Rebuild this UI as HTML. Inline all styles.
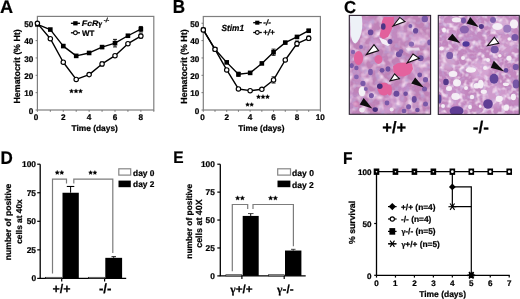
<!DOCTYPE html>
<html><head><meta charset="utf-8"><style>
html,body{margin:0;padding:0;background:#fff;width:520px;height:299px;overflow:hidden;}
svg{display:block;font-family:"Liberation Sans",sans-serif;text-rendering:geometricPrecision;filter:blur(0.35px);}
</style></head><body>
<svg width="520" height="299" viewBox="0 0 520 299" font-family="Liberation Sans">
<style>text{stroke:#000;stroke-width:0.22px;stroke-linejoin:round;}</style>
<rect width="520" height="299" fill="#fff"/>
<text transform="translate(0.00,12.83) scale(0.997,1)" font-size="18.235" font-weight="bold" font-style="normal">A</text>
<rect x="37.40" y="16.40" width="116.40" height="93.60" fill="none" stroke="#7f7f7f" stroke-width="1.2"/>
<line x1="35.60" y1="110.00" x2="37.40" y2="110.00" stroke="#777" stroke-width="1"/>
<text transform="translate(28.72,113.63) scale(1.000,1)" font-size="8.200" font-weight="bold" font-style="normal">0</text>
<line x1="35.60" y1="92.65" x2="37.40" y2="92.65" stroke="#777" stroke-width="1"/>
<text transform="translate(24.13,96.28) scale(1.000,1)" font-size="8.200" font-weight="bold" font-style="normal">10</text>
<line x1="35.60" y1="75.30" x2="37.40" y2="75.30" stroke="#777" stroke-width="1"/>
<text transform="translate(24.13,78.93) scale(1.000,1)" font-size="8.200" font-weight="bold" font-style="normal">20</text>
<line x1="35.60" y1="57.95" x2="37.40" y2="57.95" stroke="#777" stroke-width="1"/>
<text transform="translate(24.13,61.58) scale(1.000,1)" font-size="8.200" font-weight="bold" font-style="normal">30</text>
<line x1="35.60" y1="40.60" x2="37.40" y2="40.60" stroke="#777" stroke-width="1"/>
<text transform="translate(24.13,44.23) scale(1.000,1)" font-size="8.200" font-weight="bold" font-style="normal">40</text>
<line x1="35.60" y1="23.25" x2="37.40" y2="23.25" stroke="#777" stroke-width="1"/>
<text transform="translate(24.13,26.88) scale(1.000,1)" font-size="8.200" font-weight="bold" font-style="normal">50</text>
<line x1="37.40" y1="110.00" x2="37.40" y2="111.80" stroke="#777" stroke-width="1"/>
<text transform="translate(33.64,120.24) scale(1.000,1)" font-size="8.200" font-weight="bold" font-style="normal">0</text>
<line x1="50.33" y1="110.00" x2="50.33" y2="111.80" stroke="#777" stroke-width="1"/>
<line x1="63.27" y1="110.00" x2="63.27" y2="111.80" stroke="#777" stroke-width="1"/>
<text transform="translate(61.01,120.24) scale(1.000,1)" font-size="8.200" font-weight="bold" font-style="normal">2</text>
<line x1="76.20" y1="110.00" x2="76.20" y2="111.80" stroke="#777" stroke-width="1"/>
<line x1="89.13" y1="110.00" x2="89.13" y2="111.80" stroke="#777" stroke-width="1"/>
<text transform="translate(86.80,120.16) scale(1.000,1)" font-size="8.200" font-weight="bold" font-style="normal">4</text>
<line x1="102.07" y1="110.00" x2="102.07" y2="111.80" stroke="#777" stroke-width="1"/>
<line x1="115.00" y1="110.00" x2="115.00" y2="111.80" stroke="#777" stroke-width="1"/>
<text transform="translate(112.70,120.24) scale(1.000,1)" font-size="8.200" font-weight="bold" font-style="normal">6</text>
<line x1="127.93" y1="110.00" x2="127.93" y2="111.80" stroke="#777" stroke-width="1"/>
<line x1="140.87" y1="110.00" x2="140.87" y2="111.80" stroke="#777" stroke-width="1"/>
<text transform="translate(138.57,120.24) scale(1.000,1)" font-size="8.200" font-weight="bold" font-style="normal">8</text>
<line x1="153.80" y1="110.00" x2="153.80" y2="111.80" stroke="#777" stroke-width="1"/>
<text transform="translate(71.47,130.59) scale(1.000,1)" font-size="8.394" font-weight="bold" font-style="normal" fill="#000">Time (days)</text>
<text transform="translate(20.32,103.57) rotate(-90) scale(1.000,1)" font-size="8.863" font-weight="bold" font-style="normal">Hematocrit (% Ht)</text>
<polyline points="37.40,24.40 50.33,29.56 63.27,46.07 76.20,55.88 89.13,52.95 102.07,47.10 115.00,43.15 127.93,35.75 140.87,29.22" fill="none" stroke="#000" stroke-width="1.4" stroke-linejoin="round"/>
<polyline points="37.40,23.37 50.33,38.68 63.27,62.24 76.20,79.44 89.13,74.62 102.07,63.96 115.00,55.70 127.93,43.66 140.87,36.10" fill="none" stroke="#000" stroke-width="1.4" stroke-linejoin="round"/>
<line x1="115.00" y1="39.36" x2="115.00" y2="46.93" stroke="#000" stroke-width="0.9"/>
<line x1="113.00" y1="39.36" x2="117.00" y2="39.36" stroke="#000" stroke-width="0.9"/>
<line x1="113.00" y1="46.93" x2="117.00" y2="46.93" stroke="#000" stroke-width="0.9"/>
<line x1="140.87" y1="26.46" x2="140.87" y2="31.97" stroke="#000" stroke-width="0.9"/>
<line x1="138.87" y1="26.46" x2="142.87" y2="26.46" stroke="#000" stroke-width="0.9"/>
<line x1="138.87" y1="31.97" x2="142.87" y2="31.97" stroke="#000" stroke-width="0.9"/>
<line x1="102.07" y1="45.73" x2="102.07" y2="48.48" stroke="#000" stroke-width="0.9"/>
<line x1="100.07" y1="45.73" x2="104.07" y2="45.73" stroke="#000" stroke-width="0.9"/>
<line x1="100.07" y1="48.48" x2="104.07" y2="48.48" stroke="#000" stroke-width="0.9"/>
<line x1="63.27" y1="44.70" x2="63.27" y2="47.45" stroke="#000" stroke-width="0.9"/>
<line x1="61.27" y1="44.70" x2="65.27" y2="44.70" stroke="#000" stroke-width="0.9"/>
<line x1="61.27" y1="47.45" x2="65.27" y2="47.45" stroke="#000" stroke-width="0.9"/>
<line x1="140.87" y1="34.03" x2="140.87" y2="38.16" stroke="#000" stroke-width="0.9"/>
<line x1="138.87" y1="34.03" x2="142.87" y2="34.03" stroke="#000" stroke-width="0.9"/>
<line x1="138.87" y1="38.16" x2="142.87" y2="38.16" stroke="#000" stroke-width="0.9"/>
<line x1="102.07" y1="61.90" x2="102.07" y2="66.02" stroke="#000" stroke-width="0.9"/>
<line x1="100.07" y1="61.90" x2="104.07" y2="61.90" stroke="#000" stroke-width="0.9"/>
<line x1="100.07" y1="66.02" x2="104.07" y2="66.02" stroke="#000" stroke-width="0.9"/>
<rect x="35.10" y="22.10" width="4.60" height="4.60" fill="#000" stroke="none" stroke-width="1.0"/>
<rect x="48.03" y="27.26" width="4.60" height="4.60" fill="#000" stroke="none" stroke-width="1.0"/>
<rect x="60.97" y="43.77" width="4.60" height="4.60" fill="#000" stroke="none" stroke-width="1.0"/>
<rect x="73.90" y="53.58" width="4.60" height="4.60" fill="#000" stroke="none" stroke-width="1.0"/>
<rect x="86.83" y="50.65" width="4.60" height="4.60" fill="#000" stroke="none" stroke-width="1.0"/>
<rect x="99.77" y="44.80" width="4.60" height="4.60" fill="#000" stroke="none" stroke-width="1.0"/>
<rect x="112.70" y="40.85" width="4.60" height="4.60" fill="#000" stroke="none" stroke-width="1.0"/>
<rect x="125.63" y="33.45" width="4.60" height="4.60" fill="#000" stroke="none" stroke-width="1.0"/>
<rect x="138.57" y="26.92" width="4.60" height="4.60" fill="#000" stroke="none" stroke-width="1.0"/>
<circle cx="37.40" cy="23.37" r="2.2" fill="#fff" stroke="#000" stroke-width="1.15"/>
<circle cx="50.33" cy="38.68" r="2.2" fill="#fff" stroke="#000" stroke-width="1.15"/>
<circle cx="63.27" cy="62.24" r="2.2" fill="#fff" stroke="#000" stroke-width="1.15"/>
<circle cx="76.20" cy="79.44" r="2.2" fill="#fff" stroke="#000" stroke-width="1.15"/>
<circle cx="89.13" cy="74.62" r="2.2" fill="#fff" stroke="#000" stroke-width="1.15"/>
<circle cx="102.07" cy="63.96" r="2.2" fill="#fff" stroke="#000" stroke-width="1.15"/>
<circle cx="115.00" cy="55.70" r="2.2" fill="#fff" stroke="#000" stroke-width="1.15"/>
<circle cx="127.93" cy="43.66" r="2.2" fill="#fff" stroke="#000" stroke-width="1.15"/>
<circle cx="140.87" cy="36.10" r="2.2" fill="#fff" stroke="#000" stroke-width="1.15"/>
<polygon points="71.50,88.88 72.16,90.22 73.64,90.43 72.57,91.48 72.82,92.95 71.50,92.25 70.18,92.95 70.43,91.48 69.36,90.43 70.84,90.22" fill="#000" stroke="#000" stroke-width="0.3" stroke-linejoin="round"/>
<polygon points="76.00,88.88 76.66,90.22 78.14,90.43 77.07,91.48 77.32,92.95 76.00,92.25 74.68,92.95 74.93,91.48 73.86,90.43 75.34,90.22" fill="#000" stroke="#000" stroke-width="0.3" stroke-linejoin="round"/>
<polygon points="80.50,88.88 81.16,90.22 82.64,90.43 81.57,91.48 81.82,92.95 80.50,92.25 79.18,92.95 79.43,91.48 78.36,90.43 79.84,90.22" fill="#000" stroke="#000" stroke-width="0.3" stroke-linejoin="round"/>
<line x1="70.90" y1="23.30" x2="80.00" y2="23.30" stroke="#000" stroke-width="1.3"/>
<rect x="73.20" y="21.20" width="4.40" height="4.20" fill="#000" stroke="none" stroke-width="1.0"/>
<line x1="70.90" y1="32.80" x2="80.00" y2="32.80" stroke="#000" stroke-width="1.3"/>
<circle cx="75.40" cy="32.80" r="1.9" fill="#fff" stroke="#000" stroke-width="1.1"/>
<text transform="translate(81.87,26.29) scale(1.113,1)" font-size="7.889" font-weight="bold" font-style="italic">FcR<tspan font-family="Liberation Serif">γ</tspan></text>
<text transform="translate(103.67,22.29) scale(1.000,1)" font-size="5.909" font-weight="bold" font-style="italic" fill="#000">-/-</text>
<text transform="translate(82.05,35.55) scale(0.996,1)" font-size="7.971" font-weight="bold" font-style="normal">WT</text>
<text transform="translate(172.76,13.05) scale(0.898,1)" font-size="18.986" font-weight="bold" font-style="normal">B</text>
<rect x="203.30" y="16.50" width="117.10" height="93.50" fill="none" stroke="#7f7f7f" stroke-width="1.2"/>
<line x1="201.50" y1="110.00" x2="203.30" y2="110.00" stroke="#777" stroke-width="1"/>
<text transform="translate(194.82,113.63) scale(1.000,1)" font-size="8.200" font-weight="bold" font-style="normal">0</text>
<line x1="201.50" y1="92.65" x2="203.30" y2="92.65" stroke="#777" stroke-width="1"/>
<text transform="translate(190.23,96.28) scale(1.000,1)" font-size="8.200" font-weight="bold" font-style="normal">10</text>
<line x1="201.50" y1="75.30" x2="203.30" y2="75.30" stroke="#777" stroke-width="1"/>
<text transform="translate(190.23,78.93) scale(1.000,1)" font-size="8.200" font-weight="bold" font-style="normal">20</text>
<line x1="201.50" y1="57.95" x2="203.30" y2="57.95" stroke="#777" stroke-width="1"/>
<text transform="translate(190.23,61.58) scale(1.000,1)" font-size="8.200" font-weight="bold" font-style="normal">30</text>
<line x1="201.50" y1="40.60" x2="203.30" y2="40.60" stroke="#777" stroke-width="1"/>
<text transform="translate(190.23,44.23) scale(1.000,1)" font-size="8.200" font-weight="bold" font-style="normal">40</text>
<line x1="201.50" y1="23.25" x2="203.30" y2="23.25" stroke="#777" stroke-width="1"/>
<text transform="translate(190.23,26.88) scale(1.000,1)" font-size="8.200" font-weight="bold" font-style="normal">50</text>
<line x1="203.30" y1="110.00" x2="203.30" y2="111.80" stroke="#777" stroke-width="1"/>
<text transform="translate(200.34,120.14) scale(1.000,1)" font-size="8.200" font-weight="bold" font-style="normal">0</text>
<line x1="215.01" y1="110.00" x2="215.01" y2="111.80" stroke="#777" stroke-width="1"/>
<line x1="226.72" y1="110.00" x2="226.72" y2="111.80" stroke="#777" stroke-width="1"/>
<text transform="translate(224.47,120.14) scale(1.000,1)" font-size="8.200" font-weight="bold" font-style="normal">2</text>
<line x1="238.43" y1="110.00" x2="238.43" y2="111.80" stroke="#777" stroke-width="1"/>
<line x1="250.14" y1="110.00" x2="250.14" y2="111.80" stroke="#777" stroke-width="1"/>
<text transform="translate(247.80,120.06) scale(1.000,1)" font-size="8.200" font-weight="bold" font-style="normal">4</text>
<line x1="261.85" y1="110.00" x2="261.85" y2="111.80" stroke="#777" stroke-width="1"/>
<line x1="273.56" y1="110.00" x2="273.56" y2="111.80" stroke="#777" stroke-width="1"/>
<text transform="translate(271.26,120.14) scale(1.000,1)" font-size="8.200" font-weight="bold" font-style="normal">6</text>
<line x1="285.27" y1="110.00" x2="285.27" y2="111.80" stroke="#777" stroke-width="1"/>
<line x1="296.98" y1="110.00" x2="296.98" y2="111.80" stroke="#777" stroke-width="1"/>
<text transform="translate(294.68,120.14) scale(1.000,1)" font-size="8.200" font-weight="bold" font-style="normal">8</text>
<line x1="308.69" y1="110.00" x2="308.69" y2="111.80" stroke="#777" stroke-width="1"/>
<line x1="320.40" y1="110.00" x2="320.40" y2="111.80" stroke="#777" stroke-width="1"/>
<text transform="translate(315.77,120.14) scale(1.000,1)" font-size="8.200" font-weight="bold" font-style="normal">10</text>
<text transform="translate(238.37,130.60) scale(1.000,1)" font-size="8.321" font-weight="bold" font-style="normal" fill="#000">Time (days)</text>
<text transform="translate(186.93,103.67) rotate(-90) scale(1.000,1)" font-size="8.875" font-weight="bold" font-style="normal">Hematocrit (% Ht)</text>
<polyline points="203.30,29.88 215.01,49.31 226.72,62.38 238.43,74.25 250.14,72.88 261.85,63.42 273.56,52.24 285.27,42.60 296.98,36.93 308.69,30.74" fill="none" stroke="#000" stroke-width="1.4" stroke-linejoin="round"/>
<polyline points="203.30,29.88 215.01,49.31 226.72,69.95 238.43,88.96 250.14,90.68 261.85,89.30 273.56,79.93 285.27,59.98 296.98,43.64 308.69,38.30" fill="none" stroke="#000" stroke-width="1.4" stroke-linejoin="round"/>
<line x1="273.56" y1="49.14" x2="273.56" y2="55.33" stroke="#000" stroke-width="0.9"/>
<line x1="271.56" y1="49.14" x2="275.56" y2="49.14" stroke="#000" stroke-width="0.9"/>
<line x1="271.56" y1="55.33" x2="275.56" y2="55.33" stroke="#000" stroke-width="0.9"/>
<line x1="238.43" y1="72.19" x2="238.43" y2="76.32" stroke="#000" stroke-width="0.9"/>
<line x1="236.43" y1="72.19" x2="240.43" y2="72.19" stroke="#000" stroke-width="0.9"/>
<line x1="236.43" y1="76.32" x2="240.43" y2="76.32" stroke="#000" stroke-width="0.9"/>
<line x1="296.98" y1="41.06" x2="296.98" y2="46.22" stroke="#000" stroke-width="0.9"/>
<line x1="294.98" y1="41.06" x2="298.98" y2="41.06" stroke="#000" stroke-width="0.9"/>
<line x1="294.98" y1="46.22" x2="298.98" y2="46.22" stroke="#000" stroke-width="0.9"/>
<line x1="308.69" y1="36.07" x2="308.69" y2="40.54" stroke="#000" stroke-width="0.9"/>
<line x1="306.69" y1="36.07" x2="310.69" y2="36.07" stroke="#000" stroke-width="0.9"/>
<line x1="306.69" y1="40.54" x2="310.69" y2="40.54" stroke="#000" stroke-width="0.9"/>
<line x1="273.56" y1="76.83" x2="273.56" y2="83.02" stroke="#000" stroke-width="0.9"/>
<line x1="271.56" y1="76.83" x2="275.56" y2="76.83" stroke="#000" stroke-width="0.9"/>
<line x1="271.56" y1="83.02" x2="275.56" y2="83.02" stroke="#000" stroke-width="0.9"/>
<line x1="308.69" y1="29.36" x2="308.69" y2="32.11" stroke="#000" stroke-width="0.9"/>
<line x1="306.69" y1="29.36" x2="310.69" y2="29.36" stroke="#000" stroke-width="0.9"/>
<line x1="306.69" y1="32.11" x2="310.69" y2="32.11" stroke="#000" stroke-width="0.9"/>
<rect x="201.00" y="27.58" width="4.60" height="4.60" fill="#000" stroke="none" stroke-width="1.0"/>
<rect x="212.71" y="47.01" width="4.60" height="4.60" fill="#000" stroke="none" stroke-width="1.0"/>
<rect x="224.42" y="60.08" width="4.60" height="4.60" fill="#000" stroke="none" stroke-width="1.0"/>
<rect x="236.13" y="71.95" width="4.60" height="4.60" fill="#000" stroke="none" stroke-width="1.0"/>
<rect x="247.84" y="70.58" width="4.60" height="4.60" fill="#000" stroke="none" stroke-width="1.0"/>
<rect x="259.55" y="61.12" width="4.60" height="4.60" fill="#000" stroke="none" stroke-width="1.0"/>
<rect x="271.26" y="49.94" width="4.60" height="4.60" fill="#000" stroke="none" stroke-width="1.0"/>
<rect x="282.97" y="40.30" width="4.60" height="4.60" fill="#000" stroke="none" stroke-width="1.0"/>
<rect x="294.68" y="34.63" width="4.60" height="4.60" fill="#000" stroke="none" stroke-width="1.0"/>
<rect x="306.39" y="28.44" width="4.60" height="4.60" fill="#000" stroke="none" stroke-width="1.0"/>
<circle cx="203.30" cy="29.88" r="2.2" fill="#fff" stroke="#000" stroke-width="1.15"/>
<circle cx="215.01" cy="49.31" r="2.2" fill="#fff" stroke="#000" stroke-width="1.15"/>
<circle cx="226.72" cy="69.95" r="2.2" fill="#fff" stroke="#000" stroke-width="1.15"/>
<circle cx="238.43" cy="88.96" r="2.2" fill="#fff" stroke="#000" stroke-width="1.15"/>
<circle cx="250.14" cy="90.68" r="2.2" fill="#fff" stroke="#000" stroke-width="1.15"/>
<circle cx="261.85" cy="89.30" r="2.2" fill="#fff" stroke="#000" stroke-width="1.15"/>
<circle cx="273.56" cy="79.93" r="2.2" fill="#fff" stroke="#000" stroke-width="1.15"/>
<circle cx="285.27" cy="59.98" r="2.2" fill="#fff" stroke="#000" stroke-width="1.15"/>
<circle cx="296.98" cy="43.64" r="2.2" fill="#fff" stroke="#000" stroke-width="1.15"/>
<circle cx="308.69" cy="38.30" r="2.2" fill="#fff" stroke="#000" stroke-width="1.15"/>
<polygon points="247.52,102.59 248.13,103.83 249.50,104.03 248.51,104.99 248.74,106.35 247.52,105.71 246.31,106.35 246.54,104.99 245.55,104.03 246.92,103.83" fill="#000" stroke="#000" stroke-width="0.3" stroke-linejoin="round"/>
<polygon points="251.68,102.59 252.28,103.83 253.65,104.03 252.66,104.99 252.89,106.35 251.68,105.71 250.46,106.35 250.69,104.99 249.70,104.03 251.07,103.83" fill="#000" stroke="#000" stroke-width="0.3" stroke-linejoin="round"/>
<polygon points="258.50,94.58 259.16,95.92 260.64,96.13 259.57,97.18 259.82,98.65 258.50,97.95 257.18,98.65 257.43,97.18 256.36,96.13 257.84,95.92" fill="#000" stroke="#000" stroke-width="0.3" stroke-linejoin="round"/>
<polygon points="263.00,94.58 263.66,95.92 265.14,96.13 264.07,97.18 264.32,98.65 263.00,97.95 261.68,98.65 261.93,97.18 260.86,96.13 262.34,95.92" fill="#000" stroke="#000" stroke-width="0.3" stroke-linejoin="round"/>
<polygon points="267.50,94.58 268.16,95.92 269.64,96.13 268.57,97.18 268.82,98.65 267.50,97.95 266.18,98.65 266.43,97.18 265.36,96.13 266.84,95.92" fill="#000" stroke="#000" stroke-width="0.3" stroke-linejoin="round"/>
<text transform="translate(221.57,30.66) scale(0.927,1)" font-size="8.919" font-weight="bold" font-style="italic">Stim1</text>
<line x1="253.20" y1="22.70" x2="261.80" y2="22.70" stroke="#000" stroke-width="1.3"/>
<rect x="255.20" y="20.70" width="4.20" height="4.00" fill="#000" stroke="none" stroke-width="1.0"/>
<line x1="253.20" y1="32.50" x2="261.80" y2="32.50" stroke="#000" stroke-width="1.3"/>
<circle cx="257.30" cy="32.50" r="1.9" fill="#fff" stroke="#000" stroke-width="1.1"/>
<text transform="translate(263.31,25.27) scale(1.000,1)" font-size="7.955" font-weight="bold" font-style="italic" fill="#000">-/-</text>
<text transform="translate(263.06,35.37) scale(1.000,1)" font-size="8.088" font-weight="bold" font-style="italic" fill="#000">+/+</text>
<text transform="translate(343.98,12.88) scale(0.968,1)" font-size="17.324" font-weight="bold" font-style="normal">C</text>
<text transform="translate(382.29,133.09) scale(1.000,1)" font-size="16.496" font-weight="bold" font-style="normal" fill="#000">+/+</text>
<text transform="translate(472.87,133.08) scale(1.000,1)" font-size="17.093" font-weight="bold" font-style="normal" fill="#000">-/-</text>
<defs>
<clipPath id="c1"><rect x="349.3" y="15.4" width="81.30" height="98.90"/></clipPath>
<clipPath id="c2"><rect x="438.3" y="15.4" width="81.00" height="99.00"/></clipPath>
<filter id="bl" x="-10%" y="-10%" width="120%" height="120%"><feGaussianBlur stdDeviation="0.75"/></filter>
<filter id="bl2" x="-10%" y="-10%" width="120%" height="120%"><feGaussianBlur stdDeviation="1.5"/></filter>
<filter id="bl3" x="-10%" y="-10%" width="120%" height="120%"><feGaussianBlur stdDeviation="0.35"/></filter>
<filter id="t1a" x="0" y="0" width="100%" height="100%" filterUnits="objectBoundingBox"><feTurbulence type="fractalNoise" baseFrequency="0.13" numOctaves="2" seed="4" result="n"/><feColorMatrix in="n" type="matrix" values="0 0 0 0 0.9 0 0 0 0 0.72 0 0 0 0 0.87 2.6 0 0 0 -1.15" result="c"/><feGaussianBlur in="c" stdDeviation="0.4"/></filter>
<filter id="t1b" x="0" y="0" width="100%" height="100%" filterUnits="objectBoundingBox"><feTurbulence type="fractalNoise" baseFrequency="0.2" numOctaves="2" seed="9" result="n"/><feColorMatrix in="n" type="matrix" values="0 0 0 0 0.5 0 0 0 0 0.36 0 0 0 0 0.66 3.0 0 0 0 -1.45" result="c"/><feGaussianBlur in="c" stdDeviation="0.4"/></filter>
<filter id="t2a" x="0" y="0" width="100%" height="100%" filterUnits="objectBoundingBox"><feTurbulence type="fractalNoise" baseFrequency="0.17" numOctaves="2" seed="7" result="n"/><feColorMatrix in="n" type="matrix" values="0 0 0 0 0.94 0 0 0 0 0.82 0 0 0 0 0.93 3.0 0 0 0 -1.4" result="c"/><feGaussianBlur in="c" stdDeviation="0.4"/></filter>
<filter id="t2b" x="0" y="0" width="100%" height="100%" filterUnits="objectBoundingBox"><feTurbulence type="fractalNoise" baseFrequency="0.22" numOctaves="2" seed="12" result="n"/><feColorMatrix in="n" type="matrix" values="0 0 0 0 0.55 0 0 0 0 0.4 0 0 0 0 0.7 3.0 0 0 0 -1.5" result="c"/><feGaussianBlur in="c" stdDeviation="0.4"/></filter>
</defs>
<g clip-path="url(#c1)">
<rect x="349.3" y="15.4" width="81.30" height="98.90" fill="#bf82b7" />
<g filter="url(#bl2)">
<ellipse cx="365" cy="25" rx="8" ry="8" fill="#c88ec4"/>
<ellipse cx="400" cy="35" rx="10" ry="9" fill="#c289bf"/>
<ellipse cx="420" cy="70" rx="9" ry="12" fill="#c992c6"/>
<ellipse cx="360" cy="75" rx="8" ry="10" fill="#c58cc1"/>
<ellipse cx="395" cy="100" rx="10" ry="8" fill="#c890c6"/>
<ellipse cx="375" cy="45" rx="6" ry="6" fill="#d09ccf"/>
<ellipse cx="418" cy="40" rx="8" ry="6" fill="#d2a0d0"/>
<ellipse cx="385" cy="110" rx="8" ry="4" fill="#cc96cb"/>
<ellipse cx="352" cy="100" rx="5" ry="10" fill="#bd86c0"/>
<ellipse cx="405" cy="88" rx="6" ry="5" fill="#c28ac6"/>
</g>
<rect x="349.3" y="15.4" width="81.30" height="98.90" fill="#fff" filter="url(#t1a)"/>
<rect x="349.3" y="15.4" width="81.30" height="98.90" fill="#fff" filter="url(#t1b)" opacity="0.75"/>
<g filter="url(#bl)">
<path d="M350,15 L361.5,15 Q363.2,24 361.5,32 Q359.5,41 355.5,43.5 Q352.5,43 351.2,37 Q350.2,30 350,15Z" fill="#edf1f7"/>
<path d="M379,37.5 L386,40 L390,44.5 L388,46 L382,43.5Z" fill="#f3eef6"/>
<path d="M406,48 L419,47.5 L420,50.5 L407,50.5Z" fill="#efe6f1" opacity="0.8"/>
<ellipse cx="362" cy="91.5" rx="3.4" ry="4.8" fill="#f4f2f7"/>
<ellipse cx="362" cy="110" rx="2.8" ry="2.4" fill="#f0eaf3"/>
<ellipse cx="391.7" cy="109.6" rx="2" ry="2" fill="#efe6f1"/>
<ellipse cx="358.5" cy="58" rx="4.6" ry="7" fill="#e2609c"/>
<ellipse cx="378.5" cy="59.5" rx="4" ry="4.4" fill="#e2609c" opacity="0.9"/>
<ellipse cx="384" cy="89" rx="6.5" ry="6.5" fill="#e2609c"/>
<ellipse cx="389.5" cy="90" rx="2.5" ry="5.5" fill="#e2609c"/>
<ellipse cx="356" cy="104" rx="3" ry="3" fill="#e2609c" opacity="0.25"/>
<path d="M384,17 L394,17 L394,24 L391,31 L388,37 L383,39 L379.5,36 L381,29 L382,21Z" fill="#e2609c"/>
<path d="M393,66 L398,63 L406,62.5 L412,64 L413,69 L410,74 L404,76.5 L397,76 L393.5,72Z" fill="#e4629e"/>
<ellipse cx="370.6" cy="32.4" rx="2.8" ry="2.8" fill="#6a4a9c"/>
<ellipse cx="383.3" cy="26.5" rx="2.3" ry="3.3" fill="#4e3486"/>
<ellipse cx="390.0" cy="41.6" rx="2.4" ry="2.6" fill="#62449a"/>
<ellipse cx="415.6" cy="30.7" rx="2.6" ry="2.8" fill="#6a4a9c"/>
<ellipse cx="424.8" cy="19" rx="3.2" ry="3.2" fill="#7a58a8"/>
<ellipse cx="411.4" cy="44.1" rx="2.7" ry="2.7" fill="#8a68b2"/>
<ellipse cx="429.5" cy="42.4" rx="2.2" ry="2.8" fill="#7a58a8"/>
<ellipse cx="398.9" cy="54.2" rx="3" ry="3" fill="#7050a0"/>
<ellipse cx="420.6" cy="58.3" rx="3" ry="3" fill="#7050a0"/>
<ellipse cx="351.7" cy="65.6" rx="2.2" ry="2.6" fill="#7a58a8"/>
<ellipse cx="370.5" cy="72" rx="2.4" ry="3.2" fill="#7a58a8"/>
<ellipse cx="356.4" cy="76.9" rx="2.4" ry="2.4" fill="#8664b0"/>
<ellipse cx="363" cy="83.4" rx="2.6" ry="2.6" fill="#7a58a8"/>
<ellipse cx="379.8" cy="86.2" rx="2.8" ry="2.8" fill="#4a2f7e"/>
<ellipse cx="371.4" cy="95.6" rx="2.5" ry="2.7" fill="#7a58a8"/>
<ellipse cx="375.2" cy="109.6" rx="2.7" ry="2.3" fill="#4a2f7e"/>
<ellipse cx="425.5" cy="79.7" rx="2.6" ry="2.6" fill="#7a58a8"/>
<ellipse cx="424.5" cy="89" rx="2.5" ry="2.5" fill="#7a58a8"/>
<ellipse cx="396.4" cy="93.7" rx="3" ry="3" fill="#6a4a9c"/>
<ellipse cx="414.2" cy="99.3" rx="2.5" ry="3.4" fill="#6a4a9c"/>
<ellipse cx="408.6" cy="106.8" rx="2.5" ry="2.5" fill="#7a58a8"/>
<ellipse cx="425.5" cy="104" rx="2.5" ry="2.5" fill="#7a58a8"/>
<ellipse cx="353" cy="52" rx="2.2" ry="2.2" fill="#8664b0"/>
<ellipse cx="404" cy="111" rx="2.4" ry="2.2" fill="#7a58a8"/>
<ellipse cx="388" cy="69" rx="2.4" ry="2.8" fill="#7050a0"/>
<ellipse cx="401" cy="51.6" rx="2.3" ry="2.3" fill="#7a58a8"/>
<ellipse cx="382" cy="70.3" rx="2.4" ry="2.4" fill="#7050a0"/>
<ellipse cx="356.4" cy="68" rx="2.2" ry="2.2" fill="#7a58a8"/>
<ellipse cx="419.7" cy="75" rx="2.4" ry="2.4" fill="#7050a0"/>
<ellipse cx="365.8" cy="89" rx="2.0" ry="2.0" fill="#8060ac"/>
<ellipse cx="405.6" cy="93.8" rx="2.3" ry="2.3" fill="#7050a0"/>
<ellipse cx="387" cy="103" rx="2.4" ry="2.4" fill="#7a58a8"/>
<ellipse cx="417.4" cy="110" rx="2.3" ry="2.3" fill="#7050a0"/>
<ellipse cx="361" cy="46.9" rx="2.0" ry="2.0" fill="#8664b0"/>
<ellipse cx="410.3" cy="26" rx="2.0" ry="2.0" fill="#7a58a8"/>
</g>
<path d="M366.3,54.6 L374.0,44.7 L378.6,50.6Z" fill="#fff" stroke="#151015" stroke-width="1.1" stroke-linejoin="miter" filter="url(#bl3)"/>
<path d="M393.0,26.0 L399.8,17.4 L405.0,21.5Z" fill="#fff" stroke="#151015" stroke-width="1.1" stroke-linejoin="miter" filter="url(#bl3)"/>
<path d="M407.2,62.8 L413.0,54.0 L419.3,58.3Z" fill="#fff" stroke="#151015" stroke-width="1.1" stroke-linejoin="miter" filter="url(#bl3)"/>
<path d="M390.0,80.9 L394.6,73.8 L399.4,78.7Z" fill="#fff" stroke="#151015" stroke-width="1.1" stroke-linejoin="miter" filter="url(#bl3)"/>
<path d="M372.3,108.5 L363.7,98.0 L359.7,104.5Z" fill="#0c080c" filter="url(#bl3)"/>
<path d="M423.8,87.5 L411.2,83.6 L415.2,77.6Z" fill="#0c080c" filter="url(#bl3)"/>
</g>
<rect x="349.3" y="15.4" width="81.30" height="98.90" fill="none" stroke="#2a2030" stroke-width="1.1"/>
<g clip-path="url(#c2)">
<rect x="438.3" y="15.4" width="81.00" height="99.00" fill="#c286be" />
<g filter="url(#bl2)">
<ellipse cx="450" cy="30" rx="8" ry="10" fill="#c990c6"/>
<ellipse cx="470" cy="35" rx="10" ry="9" fill="#c28ac2"/>
<ellipse cx="505" cy="45" rx="10" ry="10" fill="#cc96c8"/>
<ellipse cx="455" cy="95" rx="10" ry="12" fill="#c88fc6"/>
<ellipse cx="495" cy="95" rx="12" ry="12" fill="#cf9acc"/>
<ellipse cx="480" cy="70" rx="10" ry="10" fill="#d6a4d2"/>
<ellipse cx="500" cy="25" rx="10" ry="8" fill="#d8aad4"/>
<ellipse cx="448" cy="60" rx="8" ry="10" fill="#d0a0cc"/>
</g>
<rect x="438.3" y="15.4" width="81.00" height="99.00" fill="#fff" filter="url(#t2a)"/>
<rect x="438.3" y="15.4" width="81.00" height="99.00" fill="#fff" filter="url(#t2b)" opacity="0.7"/>
<g filter="url(#bl)">
<ellipse cx="456.4" cy="19.8" rx="4.6" ry="2.6" fill="#f7f2f8" opacity="0.95"/>
<ellipse cx="441.5" cy="48.5" rx="2.2" ry="2.0" fill="#f7f2f8" opacity="0.95"/>
<ellipse cx="497.5" cy="26.5" rx="5.2" ry="3.6" fill="#f7f2f8" opacity="0.95"/>
<ellipse cx="514" cy="24" rx="4.2" ry="4.5" fill="#f7f2f8" opacity="0.95"/>
<ellipse cx="509.4" cy="39" rx="2.0" ry="1.7" fill="#f7f2f8" opacity="0.95"/>
<ellipse cx="509" cy="58.3" rx="2.6" ry="2.5" fill="#f7f2f8" opacity="0.95"/>
<ellipse cx="499.8" cy="55.8" rx="1.8" ry="1.8" fill="#f7f2f8" opacity="0.95"/>
<ellipse cx="470.8" cy="70" rx="5.3" ry="2.8" fill="#f7f2f8" opacity="0.95"/>
<ellipse cx="453" cy="74" rx="4.4" ry="3" fill="#f7f2f8" opacity="0.95"/>
<ellipse cx="457" cy="82.8" rx="4" ry="3.6" fill="#f7f2f8" opacity="0.95"/>
<ellipse cx="449" cy="88.5" rx="3" ry="2.5" fill="#f7f2f8" opacity="0.95"/>
<ellipse cx="455.6" cy="96.5" rx="4.3" ry="3.4" fill="#f7f2f8" opacity="0.95"/>
<ellipse cx="476.7" cy="85.8" rx="3.2" ry="2.8" fill="#f7f2f8" opacity="0.95"/>
<ellipse cx="480.7" cy="84.2" rx="2.7" ry="4.4" fill="#f7f2f8" opacity="0.95"/>
<ellipse cx="505.9" cy="84.2" rx="3.1" ry="1.8" fill="#f7f2f8" opacity="0.95"/>
<ellipse cx="499.3" cy="98.8" rx="3.6" ry="3.1" fill="#f7f2f8" opacity="0.95"/>
<ellipse cx="513.4" cy="97" rx="2.6" ry="3.3" fill="#f7f2f8" opacity="0.95"/>
<ellipse cx="483.8" cy="91.8" rx="3.1" ry="2.2" fill="#f7f2f8" opacity="0.95"/>
<ellipse cx="506.4" cy="107.7" rx="2.6" ry="3.1" fill="#f7f2f8" opacity="0.95"/>
<ellipse cx="480.2" cy="106.3" rx="1.3" ry="1.8" fill="#f7f2f8" opacity="0.95"/>
<ellipse cx="472" cy="97" rx="2.2" ry="2.2" fill="#f7f2f8" opacity="0.95"/>
<ellipse cx="466" cy="88" rx="2" ry="2" fill="#f7f2f8" opacity="0.95"/>
<ellipse cx="443" cy="106" rx="2" ry="2" fill="#f7f2f8" opacity="0.95"/>
<ellipse cx="470" cy="107" rx="2" ry="2.2" fill="#f7f2f8" opacity="0.95"/>
<ellipse cx="488" cy="60" rx="2" ry="2" fill="#f7f2f8" opacity="0.95"/>
<ellipse cx="444" cy="30" rx="2" ry="2.5" fill="#f7f2f8" opacity="0.95"/>
<ellipse cx="497" cy="40" rx="1.8" ry="1.8" fill="#f7f2f8" opacity="0.95"/>
<ellipse cx="463" cy="58" rx="2" ry="2" fill="#f7f2f8" opacity="0.95"/>
<ellipse cx="485" cy="68" rx="2" ry="2" fill="#f7f2f8" opacity="0.95"/>
<ellipse cx="481.3" cy="26.5" rx="2.6" ry="2.4" fill="#55388a"/>
<ellipse cx="464.4" cy="29.5" rx="4.6" ry="4.0" fill="#8a62ae"/>
<ellipse cx="466" cy="44" rx="3.6" ry="2.8" fill="#50389a"/>
<ellipse cx="463.5" cy="20.5" rx="2.5" ry="3.0" fill="#7a58a8"/>
<ellipse cx="493" cy="20" rx="3.0" ry="3.0" fill="#8060ac"/>
<ellipse cx="507.2" cy="28.7" rx="4.0" ry="4.0" fill="#9a78bc"/>
<ellipse cx="514.9" cy="37.4" rx="3.4" ry="3.4" fill="#7656a6"/>
<ellipse cx="494.7" cy="49.5" rx="4.0" ry="3.8" fill="#7656a6"/>
<ellipse cx="449.7" cy="55.4" rx="3.4" ry="3.6" fill="#7a5aa8"/>
<ellipse cx="446" cy="82" rx="2.8" ry="3.2" fill="#55388a"/>
<ellipse cx="439.5" cy="99" rx="2.0" ry="4.5" fill="#62449a"/>
<ellipse cx="456.6" cy="111" rx="7.0" ry="4.8" fill="#5e3e94"/>
<ellipse cx="506" cy="70.4" rx="2.3" ry="2.3" fill="#62449a"/>
<ellipse cx="494" cy="78.8" rx="4.4" ry="5.0" fill="#62449a"/>
<ellipse cx="515.7" cy="67" rx="3.0" ry="3.1" fill="#7656a6"/>
<ellipse cx="516" cy="84" rx="3.4" ry="4.6" fill="#7656a6"/>
<ellipse cx="488" cy="104" rx="4.8" ry="4.8" fill="#5e3e94"/>
</g>
<path d="M478.6,27.1 L470.2,17.1 L466.5,23.6Z" fill="#0c080c" filter="url(#bl3)"/>
<path d="M460.2,42.9 L452.4,33.8 L447.5,39.4Z" fill="#0c080c" filter="url(#bl3)"/>
<path d="M504.3,71.4 L493.8,60.8 L490.8,67.7Z" fill="#0c080c" filter="url(#bl3)"/>
<path d="M487.5,45.7 L494.4,37.2 L498.8,43.3Z" fill="#fff" stroke="#151015" stroke-width="1.1" stroke-linejoin="miter" filter="url(#bl3)"/>
</g>
<rect x="438.3" y="15.4" width="81.00" height="99.00" fill="none" stroke="#2a2030" stroke-width="1.1"/>
<text transform="translate(0.56,163.65) scale(0.934,1)" font-size="18.261" font-weight="bold" font-style="normal">D</text>
<line x1="40.20" y1="164.20" x2="40.20" y2="278.40" stroke="#000" stroke-width="1.3"/>
<line x1="39.60" y1="278.40" x2="126.20" y2="278.40" stroke="#000" stroke-width="1.3"/>
<line x1="37.20" y1="278.40" x2="40.20" y2="278.40" stroke="#000" stroke-width="1.2"/>
<text transform="translate(31.42,281.30) scale(1.000,1)" font-size="8.400" font-weight="bold" font-style="normal">0</text>
<line x1="37.20" y1="249.85" x2="40.20" y2="249.85" stroke="#000" stroke-width="1.2"/>
<text transform="translate(26.63,252.75) scale(1.000,1)" font-size="8.400" font-weight="bold" font-style="normal">25</text>
<line x1="37.20" y1="221.30" x2="40.20" y2="221.30" stroke="#000" stroke-width="1.2"/>
<text transform="translate(26.71,224.20) scale(1.000,1)" font-size="8.400" font-weight="bold" font-style="normal">50</text>
<line x1="37.20" y1="192.75" x2="40.20" y2="192.75" stroke="#000" stroke-width="1.2"/>
<text transform="translate(26.63,195.61) scale(1.000,1)" font-size="8.400" font-weight="bold" font-style="normal">75</text>
<line x1="37.20" y1="164.20" x2="40.20" y2="164.20" stroke="#000" stroke-width="1.2"/>
<text transform="translate(22.01,167.10) scale(1.000,1)" font-size="8.400" font-weight="bold" font-style="normal">100</text>
<line x1="61.70" y1="278.40" x2="61.70" y2="281.40" stroke="#000" stroke-width="1.2"/>
<line x1="104.60" y1="278.40" x2="104.60" y2="281.40" stroke="#000" stroke-width="1.2"/>
<rect x="45.50" y="277.26" width="16.00" height="1.14" fill="#fff" stroke="#000" stroke-width="0.6"/>
<rect x="62.50" y="192.75" width="16.30" height="85.65" fill="#000" stroke="none" stroke-width="1.0"/>
<rect x="88.50" y="277.26" width="16.00" height="1.14" fill="#fff" stroke="#000" stroke-width="0.6"/>
<rect x="105.30" y="257.84" width="16.80" height="20.56" fill="#000" stroke="none" stroke-width="1.0"/>
<line x1="70.60" y1="192.75" x2="70.60" y2="186.47" stroke="#000" stroke-width="1"/>
<line x1="66.80" y1="186.47" x2="74.30" y2="186.47" stroke="#000" stroke-width="1.1"/>
<line x1="113.70" y1="257.84" x2="113.70" y2="256.70" stroke="#000" stroke-width="1"/>
<line x1="111.50" y1="256.70" x2="116.00" y2="256.70" stroke="#000" stroke-width="0.9"/>
<path d="M52.5,273.6 V179.2 H66.5 V183.6" fill="none" stroke="#7c7c7c" stroke-width="1.2" />
<path d="M73.8,183.6 V179.2 H112.8 V253.1" fill="none" stroke="#7c7c7c" stroke-width="1.2" />
<polygon points="57.23,170.33 57.89,171.69 59.39,171.90 58.31,172.96 58.56,174.45 57.23,173.74 55.89,174.45 56.14,172.96 55.06,171.90 56.56,171.69" fill="#000" stroke="#000" stroke-width="0.3" stroke-linejoin="round"/>
<polygon points="61.77,170.33 62.44,171.69 63.94,171.90 62.86,172.96 63.11,174.45 61.77,173.74 60.44,174.45 60.69,172.96 59.61,171.90 61.11,171.69" fill="#000" stroke="#000" stroke-width="0.3" stroke-linejoin="round"/>
<polygon points="90.60,170.56 91.23,171.84 92.64,172.04 91.62,173.04 91.86,174.45 90.60,173.78 89.34,174.45 89.58,173.04 88.56,172.04 89.97,171.84" fill="#000" stroke="#000" stroke-width="0.3" stroke-linejoin="round"/>
<polygon points="94.90,170.56 95.53,171.84 96.94,172.04 95.92,173.04 96.16,174.45 94.90,173.78 93.64,174.45 93.88,173.04 92.86,172.04 94.27,171.84" fill="#000" stroke="#000" stroke-width="0.3" stroke-linejoin="round"/>
<text transform="translate(52.45,292.83) scale(1.000,1)" font-size="12.482" font-weight="bold" font-style="normal" fill="#000">+/+</text>
<text transform="translate(98.92,292.82) scale(1.000,1)" font-size="13.372" font-weight="bold" font-style="normal" fill="#000">-/-</text>
<rect x="118.80" y="168.80" width="11.90" height="6.30" fill="#fff" stroke="#858585" stroke-width="1.2"/>
<rect x="118.50" y="180.60" width="12.30" height="6.60" fill="#000" stroke="none" stroke-width="1.0"/>
<text transform="translate(133.12,175.74) scale(1.000,1)" font-size="8.340" font-weight="bold" font-style="normal" fill="#000">day 0</text>
<text transform="translate(133.12,187.41) scale(1.000,1)" font-size="8.306" font-weight="bold" font-style="normal" fill="#000">day 2</text>
<text transform="translate(11.19,260.15) rotate(-90) scale(1.000,1)" font-size="8.552" font-weight="bold" font-style="normal">number of positive</text>
<text transform="translate(21.75,243.78) rotate(-90) scale(1.000,1)" font-size="8.355" font-weight="bold" font-style="normal">cells at 40x</text>
<text transform="translate(173.36,163.15) scale(0.924,1)" font-size="16.812" font-weight="bold" font-style="normal">E</text>
<line x1="220.30" y1="164.20" x2="220.30" y2="275.90" stroke="#000" stroke-width="1.3"/>
<line x1="219.70" y1="275.90" x2="305.70" y2="275.90" stroke="#000" stroke-width="1.3"/>
<line x1="217.30" y1="275.90" x2="220.30" y2="275.90" stroke="#000" stroke-width="1.2"/>
<text transform="translate(210.32,278.80) scale(1.000,1)" font-size="8.400" font-weight="bold" font-style="normal">0</text>
<line x1="217.30" y1="247.97" x2="220.30" y2="247.97" stroke="#000" stroke-width="1.2"/>
<text transform="translate(205.53,250.87) scale(1.000,1)" font-size="8.400" font-weight="bold" font-style="normal">25</text>
<line x1="217.30" y1="220.05" x2="220.30" y2="220.05" stroke="#000" stroke-width="1.2"/>
<text transform="translate(205.61,222.95) scale(1.000,1)" font-size="8.400" font-weight="bold" font-style="normal">50</text>
<line x1="217.30" y1="192.12" x2="220.30" y2="192.12" stroke="#000" stroke-width="1.2"/>
<text transform="translate(205.53,194.98) scale(1.000,1)" font-size="8.400" font-weight="bold" font-style="normal">75</text>
<line x1="217.30" y1="164.20" x2="220.30" y2="164.20" stroke="#000" stroke-width="1.2"/>
<text transform="translate(200.91,167.10) scale(1.000,1)" font-size="8.400" font-weight="bold" font-style="normal">100</text>
<line x1="241.90" y1="275.90" x2="241.90" y2="278.90" stroke="#000" stroke-width="1.2"/>
<line x1="284.20" y1="275.90" x2="284.20" y2="278.90" stroke="#000" stroke-width="1.2"/>
<rect x="225.80" y="274.78" width="16.00" height="1.12" fill="#fff" stroke="#000" stroke-width="0.6"/>
<rect x="242.70" y="215.92" width="16.00" height="59.98" fill="#000" stroke="none" stroke-width="1.0"/>
<rect x="268.30" y="274.78" width="16.00" height="1.12" fill="#fff" stroke="#000" stroke-width="0.6"/>
<rect x="285.00" y="250.54" width="16.40" height="25.36" fill="#000" stroke="none" stroke-width="1.0"/>
<line x1="250.70" y1="215.92" x2="250.70" y2="213.57" stroke="#000" stroke-width="1"/>
<line x1="248.00" y1="213.57" x2="253.50" y2="213.57" stroke="#333" stroke-width="0.9"/>
<line x1="293.20" y1="250.54" x2="293.20" y2="249.32" stroke="#000" stroke-width="1"/>
<line x1="291.00" y1="249.32" x2="295.50" y2="249.32" stroke="#333" stroke-width="0.9"/>
<path d="M232.3,271.2 V204.5 H247.7 V209.1" fill="none" stroke="#7c7c7c" stroke-width="1.2" />
<path d="M253.0,209.1 V204.5 H293.4 V246.2" fill="none" stroke="#7c7c7c" stroke-width="1.2" />
<polygon points="237.62,195.75 238.32,197.17 239.88,197.39 238.75,198.49 239.02,200.05 237.62,199.31 236.23,200.05 236.50,198.49 235.37,197.39 236.93,197.17" fill="#000" stroke="#000" stroke-width="0.3" stroke-linejoin="round"/>
<polygon points="242.38,195.75 243.07,197.17 244.63,197.39 243.50,198.49 243.77,200.05 242.38,199.31 240.98,200.05 241.25,198.49 240.12,197.39 241.68,197.17" fill="#000" stroke="#000" stroke-width="0.3" stroke-linejoin="round"/>
<polygon points="270.62,195.75 271.32,197.17 272.88,197.39 271.75,198.49 272.02,200.05 270.62,199.31 269.23,200.05 269.50,198.49 268.37,197.39 269.93,197.17" fill="#000" stroke="#000" stroke-width="0.3" stroke-linejoin="round"/>
<polygon points="275.38,195.75 276.07,197.17 277.63,197.39 276.50,198.49 276.77,200.05 275.38,199.31 273.98,200.05 274.25,198.49 273.12,197.39 274.68,197.17" fill="#000" stroke="#000" stroke-width="0.3" stroke-linejoin="round"/>
<text transform="translate(230.32,292.84) scale(1.000,1)" font-size="11.700" font-weight="bold" font-style="normal"><tspan font-family="Liberation Serif">γ</tspan>+/+</text>
<text transform="translate(277.04,292.84) scale(1.000,1)" font-size="11.700" font-weight="bold" font-style="normal"><tspan font-family="Liberation Serif">γ</tspan>-/-</text>
<rect x="277.70" y="168.80" width="12.80" height="6.30" fill="#fff" stroke="#858585" stroke-width="1.2"/>
<rect x="277.50" y="180.60" width="12.90" height="6.60" fill="#000" stroke="none" stroke-width="1.0"/>
<text transform="translate(292.11,175.89) scale(1.000,1)" font-size="8.543" font-weight="bold" font-style="normal" fill="#000">day 0</text>
<text transform="translate(292.11,187.56) scale(1.000,1)" font-size="8.508" font-weight="bold" font-style="normal" fill="#000">day 2</text>
<text transform="translate(191.68,258.74) rotate(-90) scale(1.000,1)" font-size="8.394" font-weight="bold" font-style="normal">number of positive</text>
<text transform="translate(201.97,247.81) rotate(-90) scale(1.000,1)" font-size="8.926" font-weight="bold" font-style="normal">cells at 40X</text>
<text transform="translate(342.96,163.55) scale(0.905,1)" font-size="17.246" font-weight="bold" font-style="normal">F</text>
<line x1="376.50" y1="171.70" x2="376.50" y2="275.30" stroke="#000" stroke-width="1.3"/>
<line x1="376.50" y1="275.30" x2="509.72" y2="275.30" stroke="#000" stroke-width="1.3"/>
<line x1="374.20" y1="275.30" x2="376.50" y2="275.30" stroke="#000" stroke-width="1.2"/>
<text transform="translate(367.07,278.79) scale(1.000,1)" font-size="8.100" font-weight="bold" font-style="normal">0</text>
<line x1="374.20" y1="223.50" x2="376.50" y2="223.50" stroke="#000" stroke-width="1.2"/>
<text transform="translate(362.53,226.99) scale(1.000,1)" font-size="8.100" font-weight="bold" font-style="normal">50</text>
<line x1="374.20" y1="171.70" x2="376.50" y2="171.70" stroke="#000" stroke-width="1.2"/>
<text transform="translate(358.00,175.19) scale(1.000,1)" font-size="8.100" font-weight="bold" font-style="normal">100</text>
<line x1="376.50" y1="275.30" x2="376.50" y2="277.60" stroke="#000" stroke-width="1.2"/>
<text transform="translate(374.27,286.17) scale(1.000,1)" font-size="8.100" font-weight="bold" font-style="normal">0</text>
<line x1="395.46" y1="275.30" x2="395.46" y2="277.60" stroke="#000" stroke-width="1.2"/>
<text transform="translate(393.07,286.09) scale(1.000,1)" font-size="8.100" font-weight="bold" font-style="normal">1</text>
<line x1="414.42" y1="275.30" x2="414.42" y2="277.60" stroke="#000" stroke-width="1.2"/>
<text transform="translate(412.19,286.17) scale(1.000,1)" font-size="8.100" font-weight="bold" font-style="normal">2</text>
<line x1="433.38" y1="275.30" x2="433.38" y2="277.60" stroke="#000" stroke-width="1.2"/>
<text transform="translate(431.19,286.17) scale(1.000,1)" font-size="8.100" font-weight="bold" font-style="normal">3</text>
<line x1="452.34" y1="275.30" x2="452.34" y2="277.60" stroke="#000" stroke-width="1.2"/>
<text transform="translate(450.03,286.09) scale(1.000,1)" font-size="8.100" font-weight="bold" font-style="normal">4</text>
<line x1="471.30" y1="275.30" x2="471.30" y2="277.60" stroke="#000" stroke-width="1.2"/>
<text transform="translate(469.03,286.09) scale(1.000,1)" font-size="8.100" font-weight="bold" font-style="normal">5</text>
<line x1="490.26" y1="275.30" x2="490.26" y2="277.60" stroke="#000" stroke-width="1.2"/>
<text transform="translate(487.99,286.17) scale(1.000,1)" font-size="8.100" font-weight="bold" font-style="normal">6</text>
<line x1="509.22" y1="275.30" x2="509.22" y2="277.60" stroke="#000" stroke-width="1.2"/>
<text transform="translate(506.99,286.09) scale(1.000,1)" font-size="8.100" font-weight="bold" font-style="normal">7</text>
<text transform="translate(419.17,296.77) scale(1.000,1)" font-size="8.485" font-weight="bold" font-style="normal" fill="#000">Time (days)</text>
<text transform="translate(355.22,244.01) rotate(-90) scale(1.000,1)" font-size="8.722" font-weight="bold" font-style="normal">% survival</text>
<line x1="376.50" y1="171.70" x2="509.22" y2="171.70" stroke="#000" stroke-width="1.3"/>
<path d="M452.34,171.70 V206.72 H471.30" fill="none" stroke="#000" stroke-width="1.2" />
<path d="M452.34,186.93 H471.30 V275.30" fill="none" stroke="#000" stroke-width="1.2" />
<rect x="373.70" y="168.50" width="5.60" height="6.40" fill="#000" stroke="none" stroke-width="1.0"/>
<circle cx="376.50" cy="171.70" r="0.8" fill="#fff" stroke="none" stroke-width="0"/>
<rect x="392.66" y="168.50" width="5.60" height="6.40" fill="#000" stroke="none" stroke-width="1.0"/>
<circle cx="395.46" cy="171.70" r="0.8" fill="#fff" stroke="none" stroke-width="0"/>
<rect x="411.62" y="168.50" width="5.60" height="6.40" fill="#000" stroke="none" stroke-width="1.0"/>
<circle cx="414.42" cy="171.70" r="0.8" fill="#fff" stroke="none" stroke-width="0"/>
<rect x="430.58" y="168.50" width="5.60" height="6.40" fill="#000" stroke="none" stroke-width="1.0"/>
<circle cx="433.38" cy="171.70" r="0.8" fill="#fff" stroke="none" stroke-width="0"/>
<rect x="449.54" y="168.50" width="5.60" height="6.40" fill="#000" stroke="none" stroke-width="1.0"/>
<circle cx="452.34" cy="171.70" r="1.35" fill="#fff" stroke="none" stroke-width="0"/>
<rect x="468.50" y="168.50" width="5.60" height="6.40" fill="#000" stroke="none" stroke-width="1.0"/>
<circle cx="471.30" cy="171.70" r="1.35" fill="#fff" stroke="none" stroke-width="0"/>
<rect x="487.46" y="168.50" width="5.60" height="6.40" fill="#000" stroke="none" stroke-width="1.0"/>
<circle cx="490.26" cy="171.70" r="1.35" fill="#fff" stroke="none" stroke-width="0"/>
<rect x="506.42" y="168.50" width="5.60" height="6.40" fill="#000" stroke="none" stroke-width="1.0"/>
<circle cx="509.22" cy="171.70" r="1.35" fill="#fff" stroke="none" stroke-width="0"/>
<path d="M452.34,183.53 L455.74,186.93 L452.34,190.33 L448.94,186.93Z" fill="#000"/>
<line x1="448.44" y1="206.72" x2="456.24" y2="206.72" stroke="#000" stroke-width="1.1"/>
<line x1="450.10" y1="203.52" x2="454.58" y2="209.91" stroke="#000" stroke-width="1.1"/>
<line x1="454.58" y1="203.52" x2="450.10" y2="209.91" stroke="#000" stroke-width="1.1"/>
<line x1="467.40" y1="275.30" x2="475.20" y2="275.30" stroke="#000" stroke-width="1.7"/>
<line x1="469.06" y1="272.11" x2="473.54" y2="278.49" stroke="#000" stroke-width="1.7"/>
<line x1="473.54" y1="272.11" x2="469.06" y2="278.49" stroke="#000" stroke-width="1.7"/>
<path d="M471.30,272.30 L474.30,275.30 L471.30,278.30 L468.30,275.30Z" fill="#000"/>
<rect x="469.10" y="272.90" width="4.40" height="4.80" fill="#000" stroke="none" stroke-width="1.0"/>
<line x1="388.00" y1="206.60" x2="396.60" y2="206.60" stroke="#000" stroke-width="1.2"/>
<path d="M392.30,203.00 L395.90,206.60 L392.30,210.20 L388.70,206.60Z" fill="#000"/>
<text transform="translate(400.97,209.50) scale(1.000,1)" font-size="8.350" font-weight="bold" font-style="normal">+/+ (n=4)</text>
<line x1="388.00" y1="219.00" x2="396.60" y2="219.00" stroke="#000" stroke-width="1.2"/>
<circle cx="392.30" cy="219.00" r="2.1" fill="#fff" stroke="#000" stroke-width="1.1"/>
<text transform="translate(400.97,221.90) scale(1.000,1)" font-size="8.350" font-weight="bold" font-style="normal">-/- (n=4)</text>
<line x1="388.00" y1="231.40" x2="396.60" y2="231.40" stroke="#000" stroke-width="1.2"/>
<rect x="389.40" y="228.10" width="5.80" height="6.60" fill="#000" stroke="none" stroke-width="1.0"/>
<text transform="translate(401.38,234.30) scale(1.000,1)" font-size="8.350" font-weight="bold" font-style="normal"><tspan font-family="Liberation Serif">γ</tspan>-/- (n=5)</text>
<line x1="388.00" y1="243.80" x2="396.60" y2="243.80" stroke="#000" stroke-width="1.2"/>
<line x1="388.50" y1="243.80" x2="396.10" y2="243.80" stroke="#000" stroke-width="1.1"/>
<line x1="390.12" y1="240.69" x2="394.48" y2="246.91" stroke="#000" stroke-width="1.1"/>
<line x1="394.48" y1="240.69" x2="390.12" y2="246.91" stroke="#000" stroke-width="1.1"/>
<text transform="translate(401.38,246.70) scale(1.000,1)" font-size="8.350" font-weight="bold" font-style="normal"><tspan font-family="Liberation Serif">γ</tspan>+/+ (n=5)</text>
</svg>
</body></html>
